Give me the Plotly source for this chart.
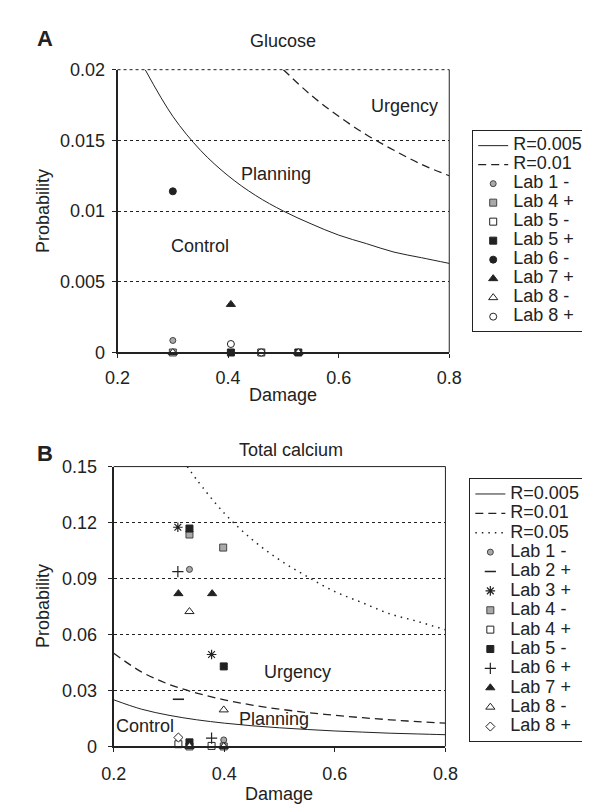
import plotly.graph_objects as go

# ---------------- Panel A : Glucose ----------------
a_d_r005 = [0.25, 0.30, 0.35, 0.40, 0.45, 0.50, 0.55, 0.60, 0.65, 0.70, 0.75, 0.80]
a_p_r005 = [0.0200, 0.0167, 0.0143, 0.0125, 0.0111, 0.0100, 0.0091, 0.0083, 0.0077, 0.0071, 0.0067, 0.0063]
a_d_r01 = [0.50, 0.55, 0.60, 0.65, 0.70, 0.75, 0.80]
a_p_r01 = [0.0200, 0.0182, 0.0167, 0.0154, 0.0143, 0.0133, 0.0125]

a_lab1m_x, a_lab1m_y = [0.30], [0.00085]
a_lab4p_x, a_lab4p_y = [0.30], [0.0]
a_lab5m_x, a_lab5m_y = [0.46], [0.0]
a_lab5p_x, a_lab5p_y = [0.405, 0.527], [0.0, 0.0]
a_lab6m_x, a_lab6m_y = [0.30], [0.0114]
a_lab7p_x, a_lab7p_y = [0.405], [0.0034]
a_lab8m_x, a_lab8m_y = [0.30, 0.527], [0.0, 0.0]
a_lab8p_x, a_lab8p_y = [0.405, 0.46], [0.0006, 0.0]

# ---------------- Panel B : Total calcium ----------------
b_d = [0.20, 0.25, 0.30, 0.35, 0.40, 0.45, 0.50, 0.55, 0.60, 0.65, 0.70, 0.75, 0.80]
b_p_r005 = [0.0250, 0.0200, 0.0167, 0.0143, 0.0125, 0.0111, 0.0100, 0.0091, 0.0083, 0.0077, 0.0071, 0.0067, 0.0063]
b_p_r01 = [0.0500, 0.0400, 0.0333, 0.0286, 0.0250, 0.0222, 0.0200, 0.0182, 0.0167, 0.0154, 0.0143, 0.0133, 0.0125]
b_d_r05 = [0.333, 0.35, 0.40, 0.45, 0.50, 0.55, 0.60, 0.65, 0.70, 0.75, 0.80]
b_p_r05 = [0.150, 0.143, 0.125, 0.111, 0.100, 0.091, 0.083, 0.077, 0.071, 0.067, 0.0625]

b_lab1m_x, b_lab1m_y = [0.337, 0.399], [0.0949, 0.0035]
b_lab2p_x, b_lab2p_y = [0.317], [0.0253]
b_lab3p_x, b_lab3p_y = [0.316, 0.377], [0.1175, 0.0493]
b_lab4m_x, b_lab4m_y = [0.337, 0.398, 0.337, 0.399], [0.1136, 0.1066, 0.0, 0.0]
b_lab4p_x, b_lab4p_y = [0.317, 0.377], [0.0012, 0.0003]
b_lab5m_x, b_lab5m_y = [0.337, 0.399, 0.337], [0.1168, 0.0429, 0.0022]
b_lab6p_x, b_lab6p_y = [0.316, 0.377], [0.0937, 0.0045]
b_lab7p_x, b_lab7p_y = [0.317, 0.378], [0.0819, 0.0819]
b_lab8m_x, b_lab8m_y = [0.337, 0.399, 0.337, 0.399], [0.0723, 0.0196, 0.0, 0.0]
b_lab8p_x, b_lab8p_y = [0.317], [0.0048]

x_ticks = [0.2, 0.4, 0.6, 0.8]
a_y_ticks = [0, 0.005, 0.01, 0.015, 0.02]
b_y_ticks = [0, 0.03, 0.06, 0.09, 0.12, 0.15]

# ---------------- styling ----------------
W, H = 590, 806
INK = "#222222"
GREY = "#a9a9a9"
FONT = "Liberation Sans, Arial, sans-serif"


def px(v):
    return v / W


def py(v):
    return 1 - v / H


def nm(label):
    return f'<span style="font-size:18px">{label}</span>'


styles = {
    "Lab 1 -": dict(symbol="circle", size=6, color=GREY, line=dict(color="#444", width=1)),
    "Lab 2 +": dict(symbol="line-ew", size=8, color=INK, line=dict(color=INK, width=1.6)),
    "Lab 3 +": dict(symbol="asterisk-open", size=8, color=INK, line=dict(color=INK, width=1.2)),
    "Lab 4 -": dict(symbol="square", size=7, color=GREY, line=dict(color="#444", width=1)),
    "Lab 4 +": dict(symbol="square", size=7, color="white", line=dict(color=INK, width=1)),
    "Lab 5 -": dict(symbol="square", size=7, color="white", line=dict(color=INK, width=1)),
    "Lab 5 +": dict(symbol="square", size=7, color=INK, line=dict(color=INK, width=1)),
    "Lab 6 -": dict(symbol="circle", size=7, color=INK, line=dict(color=INK, width=1)),
    "Lab 6 +": dict(symbol="cross-thin-open", size=8, color=INK, line=dict(color=INK, width=1.2)),
    "Lab 7 +": dict(symbol="triangle-up", size=8, color=INK, line=dict(color=INK, width=1)),
    "Lab 8 -": dict(symbol="triangle-up", size=8, color="white", line=dict(color=INK, width=1)),
    "Lab 8 +": dict(symbol="circle", size=7, color="white", line=dict(color=INK, width=1)),
    "Lab 8 + d": dict(symbol="diamond", size=7, color="white", line=dict(color=INK, width=1)),
}
b_styles = dict(styles)
b_styles["Lab 5 -"] = styles["Lab 5 +"]
b_styles["Lab 8 +"] = styles["Lab 8 + d"]
a_styles = dict(styles)
a_styles["Lab 4 +"] = styles["Lab 4 -"]

fig = go.Figure()

# Panel A curves
fig.add_trace(go.Scatter(x=a_d_r005, y=a_p_r005, mode="lines", name=nm("R=0.005"),
                         line=dict(color=INK, width=1, shape="spline"), xaxis="x", yaxis="y", legend="legend"))
fig.add_trace(go.Scatter(x=a_d_r01, y=a_p_r01, mode="lines", name=nm("R=0.01"),
                         line=dict(color=INK, width=1.3, dash="8px,5px", shape="spline"), xaxis="x", yaxis="y", legend="legend"))

a_points = [
    ("Lab 1 -", a_lab1m_x, a_lab1m_y),
    ("Lab 4 +", a_lab4p_x, a_lab4p_y),
    ("Lab 5 -", a_lab5m_x, a_lab5m_y),
    ("Lab 5 +", a_lab5p_x, a_lab5p_y),
    ("Lab 6 -", a_lab6m_x, a_lab6m_y),
    ("Lab 7 +", a_lab7p_x, a_lab7p_y),
    ("Lab 8 -", a_lab8m_x, a_lab8m_y),
    ("Lab 8 +", a_lab8p_x, a_lab8p_y),
]
for label, xs, ys in a_points:
    fig.add_trace(go.Scatter(x=xs, y=ys, mode="markers", name=nm(label), marker=a_styles[label],
                             cliponaxis=False, xaxis="x", yaxis="y", legend="legend"))

# Panel B curves
fig.add_trace(go.Scatter(x=b_d, y=b_p_r005, mode="lines", name=nm("R=0.005"),
                         line=dict(color=INK, width=1, shape="spline"), xaxis="x2", yaxis="y2", legend="legend2"))
fig.add_trace(go.Scatter(x=b_d, y=b_p_r01, mode="lines", name=nm("R=0.01"),
                         line=dict(color=INK, width=1.3, dash="8px,5px", shape="spline"), xaxis="x2", yaxis="y2", legend="legend2"))
fig.add_trace(go.Scatter(x=b_d_r05, y=b_p_r05, mode="lines", name=nm("R=0.05"),
                         line=dict(color=INK, width=1.5, dash="1.5px,5px", shape="spline"), xaxis="x2", yaxis="y2", legend="legend2"))

b_points = [
    ("Lab 1 -", b_lab1m_x, b_lab1m_y),
    ("Lab 2 +", b_lab2p_x, b_lab2p_y),
    ("Lab 3 +", b_lab3p_x, b_lab3p_y),
    ("Lab 4 -", b_lab4m_x, b_lab4m_y),
    ("Lab 4 +", b_lab4p_x, b_lab4p_y),
    ("Lab 5 -", b_lab5m_x, b_lab5m_y),
    ("Lab 6 +", b_lab6p_x, b_lab6p_y),
    ("Lab 7 +", b_lab7p_x, b_lab7p_y),
    ("Lab 8 -", b_lab8m_x, b_lab8m_y),
    ("Lab 8 +", b_lab8p_x, b_lab8p_y),
]
for label, xs, ys in b_points:
    fig.add_trace(go.Scatter(x=xs, y=ys, mode="markers", name=nm(label), marker=b_styles[label],
                             cliponaxis=False, xaxis="x2", yaxis="y2", legend="legend2"))

axis_common = dict(
    showline=True, linecolor=INK, linewidth=2, ticks="outside", ticklen=4, tickcolor=INK,
    tickfont=dict(family=FONT, size=18, color=INK), zeroline=False, showgrid=False,
)
grid_y = dict(showgrid=True, gridcolor=INK, gridwidth=1, griddash="dot")

fig.update_layout(
    width=W, height=H, margin=dict(l=0, r=0, t=0, b=0),
    paper_bgcolor="white", plot_bgcolor="white",
    font=dict(family=FONT, size=18, color=INK),
    xaxis=dict(domain=[px(101), px(448)], range=[0.2, 0.8], tickvals=x_ticks, anchor="y",
               ticklabelstandoff=4, **axis_common),
    yaxis=dict(domain=[py(343), py(53)], range=[0, 0.02], tickvals=a_y_ticks, anchor="x",
               ticklabelstandoff=3, **{**axis_common, **grid_y}),
    xaxis2=dict(domain=[px(97), px(444)], range=[0.2, 0.8], tickvals=x_ticks, anchor="y2",
                ticklabelstandoff=6, **axis_common),
    yaxis2=dict(domain=[py(747), py(460)], range=[0, 0.15], tickvals=b_y_ticks, anchor="x2",
                ticklabelstandoff=7, **{**axis_common, **grid_y}),
    legend=dict(x=px(472), y=py(115), xanchor="left", yanchor="top", bordercolor=INK, borderwidth=1,
                bgcolor="white", font=dict(family=FONT, size=12.3, color=INK), tracegroupgap=0,
                itemwidth=30),
    legend2=dict(x=px(469), y=py(472), xanchor="left", yanchor="top", bordercolor=INK, borderwidth=1,
                 bgcolor="white", font=dict(family=FONT, size=12.6, color=INK), tracegroupgap=0,
                 itemwidth=30),
    showlegend=True,
)

# frame lines (right border + dotted top of A; right + top border of B)
fig.add_shape(type="line", xref="x domain", yref="y domain", x0=1, x1=1, y0=0, y1=1,
              line=dict(color=INK, width=1))
fig.add_shape(type="line", xref="x domain", yref="y domain", x0=0, x1=1, y0=1, y1=1,
              line=dict(color=INK, width=1, dash="dot"))
fig.add_shape(type="line", xref="x2 domain", yref="y2 domain", x0=1, x1=1, y0=0, y1=1,
              line=dict(color=INK, width=1))
fig.add_shape(type="line", xref="x2 domain", yref="y2 domain", x0=0, x1=1, y0=1, y1=1,
              line=dict(color=INK, width=1))


def ann(text, x, y, xref="paper", yref="paper", size=18, bold=False, angle=0):
    fig.add_annotation(text=f"<b>{text}</b>" if bold else text, x=x, y=y, xref=xref, yref=yref,
                       showarrow=False, textangle=angle, xanchor="center", yanchor="middle",
                       font=dict(family=FONT, size=size, color=INK))


ann("A", px(25), py(21), size=22, bold=True)
ann("B", px(25), py(447), size=22, bold=True)
ann("Glucose", px(274), py(24))
ann("Total calcium", px(282), py(443))
ann("Damage", px(274), py(387))
ann("Damage", px(270), py(796))
ann("Probability", px(23), py(198), angle=-90)
ann("Probability", px(23), py(603), angle=-90)

# region labels (data coordinates)
ann("Urgency", 0.719, 0.01745, xref="x", yref="y")
ann("Planning", 0.487, 0.0126, xref="x", yref="y")
ann("Control", 0.35, 0.0075, xref="x", yref="y")
ann("Urgency", 0.532, 0.0401, xref="x2", yref="y2")
ann("Planning", 0.49, 0.0147, xref="x2", yref="y2")
ann("Control", 0.257, 0.011, xref="x2", yref="y2")

fig.write_html("out.html")
